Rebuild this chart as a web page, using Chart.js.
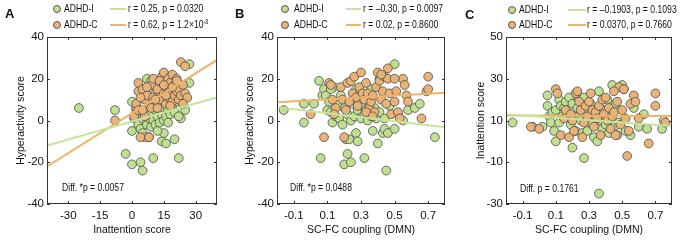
<!DOCTYPE html>
<html>
<head>
<meta charset="utf-8">
<script src="https://cdn.jsdelivr.net/npm/chart.js@4.4.1/dist/chart.umd.min.js"></script>
<style>
  body { margin: 0; width: 682px; height: 243px; background: #fff; overflow: hidden; position: relative;
         font-family: "Liberation Sans", Arial, sans-serif; color: #111; }
  canvas { position: absolute; top: 0; }
  .letter { position: absolute; font: bold 13px "Liberation Sans", Arial, sans-serif; color: #111; }
  .txt { position: absolute; font-size: 11.5px; line-height: 13px; white-space: nowrap; transform: scaleX(0.75); transform-origin: 0 0; }
  .dot { position: absolute; width: 6px; height: 6px; border-radius: 50%; border: 1px solid #555; }
  .ln { position: absolute; height: 2px; }
  sup { font-size: 7px; vertical-align: 4px; line-height: 0; }
</style>
</head>
<body>
<canvas id="chartA" width="227" height="243" style="left:0"></canvas>
<canvas id="chartB" width="227" height="243" style="left:227px"></canvas>
<canvas id="chartC" width="228" height="243" style="left:454px"></canvas>

<div class="letter" style="left:5px;top:6px">A</div>
<div class="dot" style="left:53px;top:5px;background:#bfe08f"></div>
<div class="txt" style="left:64px;top:2px">ADHD-I</div>
<div class="ln" style="left:110px;top:8px;width:16px;background:#c6e59c"></div>
<div class="txt" style="left:128px;top:2px">r = 0.25, p = 0.0320</div>
<div class="dot" style="left:53px;top:21px;background:#e9b377"></div>
<div class="txt" style="left:64px;top:18px">ADHD-C</div>
<div class="ln" style="left:110px;top:24px;width:16px;background:#f0b36a"></div>
<div class="txt" style="left:128px;top:18px">r = 0.62, p = 1.2×10<sup>-8</sup></div>
<div class="txt" style="left:62px;top:181px">Diff. *p = 0.0057</div>

<div class="letter" style="left:235px;top:6px">B</div>
<div class="dot" style="left:281px;top:5px;background:#bfe08f"></div>
<div class="txt" style="left:294px;top:2px">ADHD-I</div>
<div class="ln" style="left:346px;top:8px;width:15px;background:#c6e59c"></div>
<div class="txt" style="left:363px;top:2px">r = –0.30, p = 0.0097</div>
<div class="dot" style="left:281px;top:21px;background:#e9b377"></div>
<div class="txt" style="left:294px;top:18px">ADHD-C</div>
<div class="ln" style="left:346px;top:24px;width:15px;background:#f0b36a"></div>
<div class="txt" style="left:363px;top:18px">r = 0.02, p = 0.8600</div>
<div class="txt" style="left:290px;top:181px">Diff. *p = 0.0488</div>

<div class="letter" style="left:465px;top:7px">C</div>
<div class="dot" style="left:508px;top:6px;background:#bfe08f"></div>
<div class="txt" style="left:519px;top:3px">ADHD-I</div>
<div class="ln" style="left:568px;top:9px;width:18px;background:#c6e59c"></div>
<div class="txt" style="left:587px;top:3px">r = –0.1903, p = 0.1093</div>
<div class="dot" style="left:508px;top:21px;background:#e9b377"></div>
<div class="txt" style="left:519px;top:18px">ADHD-C</div>
<div class="ln" style="left:568px;top:24px;width:18px;background:#f0b36a"></div>
<div class="txt" style="left:587px;top:18px">r = 0.0370, p = 0.7660</div>
<div class="txt" style="left:520px;top:182px">Diff. p = 0.1761</div>

<script>
// ---- data ----
const inattTicks = [-30, -15, 0, 15, 30];
const couplingTicks = [-0.1, 0.1, 0.3, 0.5, 0.7];
const hyperTicks = [-40, -20, 0, 20, 40];
const inattScoreTicks = [-30, -10, 10, 30, 50];
const couplingTickLabels = ["-0.1", "0.1", "0.3", "0.5", "0.7"];

// Panel A: inattention (x) vs hyperactivity (y)
const aInatt = [
  [-25, 6], [-8, 5], [-3, -16], [0, -21], [4, -20], [5, -24], [10, -18], [22, -18], [14, -10], [16, -11],
  [20, -9], [15, -6], [0, 9], [7, 20], [9, 19], [27, 27], [27, 18], [23, 10], [23, 1], [0, -5],
  [1, 1], [2, 5], [3, -2], [4, -4], [4, 3], [5, -6], [5, 1], [6, -8], [6, 5], [7, -2],
  [7, 3], [8, -8], [8, 6], [8, 1], [9, -3], [9, 4], [10, 0], [10, 8], [10, 14], [11, -2],
  [11, 5], [12, 2], [12, 10], [12, -5], [13, 7], [13, -1], [14, 3], [14, 12], [15, 0], [15, 6],
  [16, 9], [16, 2], [17, 5], [17, -1], [18, 11], [18, 3], [19, 7], [19, 13], [20, 4], [20, 16],
  [21, 9], [22, 2], [24, 12], [25, 5]
];
const aComb = [
  [-8, 0], [1, 2], [2, 6], [3, 14], [3, 18], [4, -8], [5, 15], [6, 10], [7, 12], [8, -8],
  [9, 17], [10, 20], [11, 7], [11, 13], [12, 15], [13, 10], [14, 21], [14, 18], [15, 23], [15, 13],
  [16, 16], [16, 8], [17, 20], [17, 11], [18, 18], [18, 14], [19, 22], [19, 9], [20, 17], [20, 12],
  [21, 20], [21, 14], [22, 10], [22, 15], [23, 12], [23, 28], [24, 17], [25, 26], [25, 13], [26, 11],
  [2, 8], [4, 11], [6, 2], [9, 6], [12, 6], [13, 19], [16, 12], [19, 16], [7, 16], [10, 11],
  [3, 5], [5, 5], [15, 17], [21, 19], [24, 8], [18, 7], [11, 10]
];
const aFitInatt = [[-40, -12], [40, 11]];
const aFitComb = [[-40, -22], [40, 29]];

// Panel B: SC-FC coupling (x) vs hyperactivity (y)
const bInatt = [
  [-0.16, 5], [-0.04, -1], [-0.04, 8], [0.02, 8], [0.05, 19], [0.06, -18], [0.07, 12], [0.08, 15], [0.09, 12], [0.1, 5],
  [0.11, 9], [0.13, -1], [0.14, 16], [0.12, 4], [0.15, 2], [0.17, 1], [0.18, 12], [0.19, -2], [0.2, -21], [0.2, 6],
  [0.21, -9], [0.22, -16], [0.22, 3], [0.23, -9], [0.24, 0], [0.24, -20], [0.25, 8], [0.26, 2], [0.27, -6], [0.28, -10],
  [0.28, 5], [0.29, 12], [0.3, 1], [0.31, 7], [0.32, -18], [0.32, 3], [0.33, 5], [0.34, 0], [0.35, 8], [0.36, 2],
  [0.37, -5], [0.38, 6], [0.39, 1], [0.4, -11], [0.41, 20], [0.41, 4], [0.43, -6], [0.44, 1], [0.44, -4], [0.45, -24],
  [0.46, -6], [0.47, 7], [0.5, 27], [0.5, -4], [0.52, 3], [0.55, 0], [0.58, 5], [0.62, 6], [0.65, 8], [0.74, -8],
  [0.12, 15], [0.16, 8], [0.36, 15], [0.27, 15]
];
const bComb = [
  [0.0, 3], [0.08, -8], [0.11, 18], [0.12, 17], [0.13, 10], [0.18, 16], [0.19, 10], [0.2, -8], [0.21, 5], [0.22, 18],
  [0.24, 19], [0.25, 13], [0.26, 21], [0.27, 11], [0.28, 7], [0.29, 16], [0.3, 23], [0.31, 13], [0.32, 10], [0.33, 18],
  [0.34, 13], [0.35, 6], [0.36, 9], [0.37, 12], [0.38, 4], [0.39, 16], [0.4, 23], [0.41, 19], [0.42, 10], [0.43, 14],
  [0.44, 21], [0.45, 8], [0.46, 25], [0.46, 20], [0.47, 13], [0.48, 3], [0.5, 9], [0.51, 14], [0.52, 4], [0.53, 1],
  [0.55, 20], [0.56, 17], [0.57, 12], [0.58, 9], [0.66, 1], [0.69, 14], [0.7, 21], [0.7, 15], [0.15, 6], [0.23, 9],
  [0.33, 4], [0.5, 20], [0.42, 22], [0.14, 3], [0.37, 2]
];
const bFitInatt = [[-0.2, 6.4], [0.8, -3.2]];
const bFitComb = [[-0.2, 8.8], [0.8, 13.3]];

// Panel C: SC-FC coupling (x) vs inattention (y)
const cInatt = [
  [-0.16, 9], [-0.04, 7], [0.02, 7], [0.05, 22], [0.05, 17], [0.06, 12], [0.07, 9], [0.08, 14], [0.09, 5], [0.1, 15],
  [0.1, 0], [0.12, 20], [0.12, 9], [0.13, 17], [0.14, 12], [0.15, 16], [0.16, 19], [0.17, 14], [0.18, 21], [0.19, 8],
  [0.2, 18], [0.2, -3], [0.21, 12], [0.22, 5], [0.23, 16], [0.24, 20], [0.25, 10], [0.26, 4], [0.27, -8], [0.27, 21],
  [0.28, 14], [0.29, 5], [0.3, 12], [0.31, 18], [0.32, 8], [0.33, 2], [0.34, 12], [0.35, 0], [0.36, 24], [0.36, -25],
  [0.37, 10], [0.38, 6], [0.39, 15], [0.4, 8], [0.41, 20], [0.42, 4], [0.43, 13], [0.44, 27], [0.45, 7], [0.46, 18],
  [0.47, 3], [0.48, 9], [0.5, 27], [0.51, 25], [0.52, 5], [0.55, 3], [0.6, 7], [0.63, 13], [0.65, 6], [0.74, 6],
  [0.75, 10], [0.57, 16]
];
const cComb = [
  [-0.05, 7], [0.0, 6], [0.1, 25], [0.11, 23], [0.13, 3], [0.15, 11], [0.16, 15], [0.18, 2], [0.19, 13], [0.21, 5],
  [0.22, 23], [0.23, 24], [0.24, 19], [0.25, 15], [0.26, 2], [0.27, 9], [0.28, 17], [0.29, 12], [0.3, 19], [0.31, 23],
  [0.32, 15], [0.33, 7], [0.34, 14], [0.35, 11], [0.36, 17], [0.37, 3], [0.38, 20], [0.39, 13], [0.4, 21], [0.41, 10],
  [0.42, 16], [0.43, 6], [0.44, 12], [0.45, 14], [0.46, 3], [0.47, 19], [0.48, 26], [0.49, 8], [0.5, 15], [0.51, 25],
  [0.52, 11], [0.53, -7], [0.54, 5], [0.55, 18], [0.57, 22], [0.58, 19], [0.6, 11], [0.66, -1], [0.7, 23], [0.7, 17],
  [0.76, 9], [0.2, 10], [0.45, 24]
];
const cFitInatt = [[-0.2, 13], [0.8, 7.4]];
const cFitComb = [[-0.2, 12.4], [0.8, 12.2]];

// ---- styles ----
const greenFill = "#bfe08f";
const orangeFill = "#e9b377";
const greenLine = "#c6e59c";
const orangeLine = "#f0b36a";
const axisColor = "#333";
const textColor = "#111";
const fontFam = '"Liberation Sans", Arial, sans-serif';

// box around plot + short inward ticks on all four sides
const frame = {
  id: "frame",
  afterDraw(chart) {
    const { ctx, chartArea: a, scales } = chart;
    ctx.save();
    ctx.strokeStyle = axisColor;
    ctx.lineWidth = 1;
    ctx.strokeRect(a.left + 0.5, a.top + 0.5, a.right - a.left - 1, a.bottom - a.top - 1);
    ctx.beginPath();
    scales.x.ticks.forEach((t) => {
      const px = Math.round(scales.x.getPixelForValue(t.value)) + 0.5;
      ctx.moveTo(px, a.bottom); ctx.lineTo(px, a.bottom - 3);
      ctx.moveTo(px, a.top); ctx.lineTo(px, a.top + 3);
    });
    scales.y.ticks.forEach((t) => {
      const py = Math.round(scales.y.getPixelForValue(t.value)) + 0.5;
      ctx.moveTo(a.left, py); ctx.lineTo(a.left + 3, py);
      ctx.moveTo(a.right, py); ctx.lineTo(a.right - 3, py);
    });
    ctx.stroke();
    ctx.restore();
  },
};

function pointSet(data, fill) {
  return {
    type: "scatter",
    data: data,
    backgroundColor: fill,
    borderColor: "#4d4d4d",
    borderWidth: 0.8,
    pointRadius: 4.4,
    order: 2,
  };
}

function fitLine(data, color) {
  return {
    type: "line",
    data: data,
    borderColor: color,
    borderWidth: 2,
    pointRadius: 0,
    order: 0,
  };
}

function drawPanel(id, p) {
  new Chart(document.getElementById(id), {
    type: "scatter",
    data: {
      datasets: [
        fitLine(p.fitI, greenLine),
        fitLine(p.fitC, orangeLine),
        pointSet(p.ptsC, orangeFill),
        pointSet(p.ptsI, greenFill),
      ],
    },
    options: {
      responsive: false,
      animation: false,
      events: [],
      layout: { padding: { top: 37, right: p.padRight, left: 0, bottom: 0 } },
      plugins: { legend: { display: false }, tooltip: { enabled: false } },
      scales: {
        x: {
          type: "linear",
          min: p.xMin,
          max: p.xMax,
          afterBuildTicks: (s) => { s.ticks = p.xTicks.map((v) => ({ value: v })); },
          afterFit: (s) => { s.height = 39; },
          grid: { display: false, drawTicks: false },
          border: { display: false },
          ticks: {
            padding: 5,
            color: textColor,
            font: { family: fontFam, size: 11.5 },
            callback: (v, i) => p.xLabels[i],
          },
          title: { display: true, text: p.xTitle, color: textColor, font: { family: fontFam, size: 10.5 }, padding: { top: 0, bottom: 7 } },
        },
        y: {
          type: "linear",
          min: p.yMin,
          max: p.yMax,
          afterBuildTicks: (s) => { s.ticks = p.yTicks.map((v) => ({ value: v })); },
          afterFit: (s) => { s.width = p.yWidth; },
          grid: { display: false, drawTicks: false },
          border: { display: false },
          ticks: {
            padding: 3,
            color: textColor,
            font: { family: fontFam, size: 11.5 },
            callback: (v) => String(v),
          },
          title: { display: true, text: p.yTitle, color: textColor, font: { family: fontFam, size: 10.5 }, padding: { top: p.yTitlePad, bottom: 0 } },
        },
      },
    },
    plugins: [frame],
  });
}

drawPanel("chartA", {
  ptsI: aInatt, ptsC: aComb, fitI: aFitInatt, fitC: aFitComb,
  xMin: -40, xMax: 40, xTicks: inattTicks, xLabels: inattTicks.map(String),
  yMin: -40, yMax: 40, yTicks: hyperTicks,
  xTitle: "Inattention score", yTitle: "Hyperactivity score",
  yWidth: 47, padRight: 10, yTitlePad: 15,
});
drawPanel("chartB", {
  ptsI: bInatt, ptsC: bComb, fitI: bFitInatt, fitC: bFitComb,
  xMin: -0.2, xMax: 0.8, xTicks: couplingTicks, xLabels: couplingTickLabels,
  yMin: -40, yMax: 40, yTicks: hyperTicks,
  xTitle: "SC-FC coupling (DMN)", yTitle: "Hyperactivity score",
  yWidth: 50, padRight: 9, yTitlePad: 17,
});
drawPanel("chartC", {
  ptsI: cInatt, ptsC: cComb, fitI: cFitInatt, fitC: cFitComb,
  xMin: -0.2, xMax: 0.8, xTicks: couplingTicks, xLabels: couplingTickLabels,
  yMin: -30, yMax: 50, yTicks: inattScoreTicks,
  xTitle: "SC-FC coupling (DMN)", yTitle: "Inattention score",
  yWidth: 52, padRight: 10, yTitlePad: 21,
});
</script>
</body>
</html>
